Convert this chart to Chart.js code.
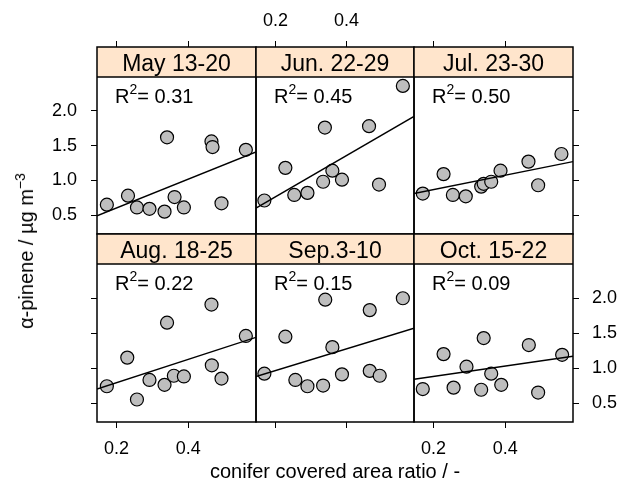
<!DOCTYPE html>
<html>
<head>
<meta charset="utf-8">
<script src="https://cdn.jsdelivr.net/npm/chart.js@4.4.1/dist/chart.umd.min.js"></script>
<style>
body { margin: 0; background: #fff; }
#wrap { position: relative; width: 619px; height: 482px; overflow: hidden; font-family: "Liberation Sans", Arial, sans-serif; }
#wrap canvas { position: absolute; left: 0; top: 0; }
.ttl { position: absolute; font-size: 20px; line-height: 20px; color: #000; white-space: nowrap; }
.sup { font-size: 14px; position: relative; top: -8px; }
</style>
</head>
<body>
<div id="wrap">
  <canvas id="p0" width="619" height="482"></canvas>
  <canvas id="p1" width="619" height="482"></canvas>
  <canvas id="p2" width="619" height="482"></canvas>
  <canvas id="p3" width="619" height="482"></canvas>
  <canvas id="p4" width="619" height="482"></canvas>
  <canvas id="p5" width="619" height="482"></canvas>
  <div class="ttl" id="xlab">conifer covered area ratio / -</div>
  <div class="ttl" id="ylab">α-pinene / µg m<span class="sup">−3</span></div>
</div>
<script>
// Panel titles and R2 labels
const panelTitles = ['May 13-20', 'Jun. 22-29', 'Jul. 23-30', 'Aug. 18-25', 'Sep.3-10', 'Oct. 15-22'];
const r2Labels = ['0.31', '0.45', '0.50', '0.22', '0.15', '0.09'];

// Tick values
const xTicks = [0.2, 0.4];
const yTicks = [0.5, 1.0, 1.5, 2.0];

// Conifer covered area ratio (x) and alpha-pinene (y), one pair per panel
const mayX = [0.173, 0.232, 0.257, 0.292, 0.334, 0.362, 0.388, 0.341, 0.465, 0.468, 0.493, 0.561];
const mayY = [0.65, 0.78, 0.61, 0.59, 0.55, 0.76, 0.61, 1.62, 1.56, 1.48, 0.67, 1.44];
const junX = [0.169, 0.228, 0.253, 0.290, 0.334, 0.360, 0.387, 0.339, 0.463, 0.491, 0.558];
const junY = [0.71, 1.18, 0.79, 0.82, 0.98, 1.14, 1.01, 1.76, 1.78, 0.94, 2.36];
const julX = [0.170, 0.228, 0.254, 0.290, 0.333, 0.340, 0.361, 0.387, 0.465, 0.492, 0.557];
const julY = [0.81, 1.09, 0.79, 0.77, 0.91, 0.95, 0.98, 1.14, 1.27, 0.93, 1.38];
const augX = [0.173, 0.230, 0.257, 0.292, 0.334, 0.341, 0.360, 0.388, 0.465, 0.466, 0.493, 0.561];
const augY = [0.74, 1.15, 0.55, 0.83, 0.76, 1.65, 0.89, 0.88, 1.91, 1.04, 0.85, 1.46];
const sepX = [0.169, 0.228, 0.256, 0.290, 0.334, 0.340, 0.360, 0.387, 0.465, 0.465, 0.493, 0.558];
const sepY = [0.92, 1.45, 0.83, 0.74, 0.75, 1.98, 1.30, 0.91, 1.83, 0.96, 0.89, 2.00];
const octX = [0.170, 0.228, 0.256, 0.292, 0.333, 0.340, 0.361, 0.389, 0.466, 0.492, 0.559];
const octY = [0.70, 1.20, 0.72, 1.02, 0.69, 1.43, 0.92, 0.76, 1.33, 0.65, 1.19];

// Regression line values at the left and right panel limits
const fitStart = [0.49, 0.60, 0.81, 0.70, 0.88, 0.84];
const fitEnd = [1.41, 1.92, 1.27, 1.44, 1.57, 1.17];

const panelX = [mayX, junX, julX, augX, sepX, octX];
const panelY = [mayY, junY, julY, augY, sepY, octY];

// Axis limits (y max includes the strip on top of each panel)
const X_MIN = 0.1455, X_MAX = 0.5893;
const Y_MIN = 0.228, Y_MAX = 2.92;

// Layout
const COL_EDGES = [97, 256, 414, 573];
const ROW_EDGES = [[47, 234], [234, 422]];
const STRIP_H = 30;
const X_AXIS_H = 45;
const Y_AXIS_W = [60, 0, 46];
const W = 619, H = 482;
const FONT = '"Liberation Sans", Arial, sans-serif';
const COLORS = {
    strip: '#FFE5CC',
    point: '#BEBEBE',
    ink: '#000000'
};

// Strip, frame and R2 text
const panelDecor = {
    id: 'panelDecor',
    afterDraw(chart, args, opts) {
        const { ctx, chartArea: a } = chart;
        ctx.save();
        ctx.fillStyle = COLORS.strip;
        ctx.fillRect(a.left, a.top, a.right - a.left, STRIP_H);
        ctx.strokeStyle = COLORS.ink;
        ctx.lineWidth = 1.5;
        ctx.strokeRect(a.left, a.top, a.right - a.left, a.bottom - a.top);
        ctx.beginPath();
        ctx.moveTo(a.left, a.top + STRIP_H);
        ctx.lineTo(a.right, a.top + STRIP_H);
        ctx.stroke();

        ctx.fillStyle = COLORS.ink;
        ctx.textBaseline = 'alphabetic';
        ctx.textAlign = 'center';
        ctx.font = '23px ' + FONT;
        ctx.fillText(opts.title, (a.left + a.right) / 2, a.top + 24);

        ctx.textAlign = 'left';
        let x = a.left + 18;
        const y = a.top + STRIP_H + 26;
        ctx.font = '20px ' + FONT;
        ctx.fillText('R', x, y);
        x += ctx.measureText('R').width;
        ctx.font = '14px ' + FONT;
        ctx.fillText('2', x, y - 9.5);
        x += ctx.measureText('2').width;
        ctx.font = '20px ' + FONT;
        ctx.fillText('= ' + opts.r2, x, y);
        ctx.restore();
    }
};

function makePanel(i) {
    const r = Math.floor(i / 3);
    const c = i % 3;
    const L = COL_EDGES[c], R = COL_EDGES[c + 1];
    const T = ROW_EDGES[r][0], B = ROW_EDGES[r][1];
    const showX = (r === 0 && c === 1) || (r === 1 && c !== 1);
    const showY = (r === 0 && c === 0) || (r === 1 && c === 2);
    const hasY = c !== 1;

    const points = panelX[i].map((v, k) => ({ x: v, y: panelY[i][k] }));

    new Chart(document.getElementById('p' + i), {
        type: 'scatter',
        data: {
            datasets: [{
                type: 'line',
                data: [{ x: X_MIN, y: fitStart[i] }, { x: X_MAX, y: fitEnd[i] }],
                borderColor: COLORS.ink,
                borderWidth: 1.4,
                pointRadius: 0,
                fill: false
            }, {
                data: points,
                backgroundColor: COLORS.point,
                borderColor: COLORS.ink,
                borderWidth: 1.2,
                pointRadius: 6.5
            }]
        },
        options: {
            responsive: false,
            animation: false,
            devicePixelRatio: 1,
            events: [],
            layout: {
                padding: {
                    left: L - (c === 0 ? Y_AXIS_W[0] : 0),
                    right: W - R - (c === 2 ? Y_AXIS_W[2] : 0),
                    top: T - (r === 0 ? X_AXIS_H : 0),
                    bottom: H - B - (r === 1 ? X_AXIS_H : 0)
                }
            },
            scales: {
                x: {
                    type: 'linear',
                    position: r === 0 ? 'top' : 'bottom',
                    min: X_MIN,
                    max: X_MAX,
                    afterFit: s => { s.height = X_AXIS_H; },
                    afterBuildTicks: s => { s.ticks = xTicks.map(v => ({ value: v })); },
                    grid: { drawOnChartArea: false, tickLength: 6, color: COLORS.ink, lineWidth: 1 },
                    border: { display: false },
                    ticks: {
                        color: COLORS.ink,
                        font: { family: FONT, size: 18 },
                        padding: r === 0 ? 9 : 10,
                        maxRotation: 0,
                        autoSkip: false,
                        callback: v => showX ? v.toFixed(1) : ''
                    }
                },
                y: {
                    type: 'linear',
                    display: hasY,
                    position: c === 0 ? 'left' : 'right',
                    min: Y_MIN,
                    max: Y_MAX,
                    afterFit: s => { s.width = hasY ? Y_AXIS_W[c] : 0; },
                    afterBuildTicks: s => { s.ticks = yTicks.map(v => ({ value: v })); },
                    grid: { drawOnChartArea: false, tickLength: 6, color: COLORS.ink, lineWidth: 1 },
                    border: { display: false },
                    ticks: {
                        color: COLORS.ink,
                        font: { family: FONT, size: 18 },
                        padding: c === 0 ? 14 : 13,
                        autoSkip: false,
                        callback: v => showY ? v.toFixed(1) : ''
                    }
                }
            },
            plugins: {
                legend: { display: false },
                tooltip: { enabled: false },
                panelDecor: { title: panelTitles[i], r2: r2Labels[i] }
            }
        },
        plugins: [panelDecor]
    });
}

for (let i = 0; i < 6; i++) makePanel(i);

// Axis titles
const xlab = document.getElementById('xlab');
xlab.style.left = ((COL_EDGES[0] + COL_EDGES[3]) / 2) + 'px';
xlab.style.top = '461px';
xlab.style.transform = 'translateX(-50%)';

const ylab = document.getElementById('ylab');
ylab.style.left = '26.5px';
ylab.style.top = '251px';
ylab.style.transform = 'translate(-50%, -50%) rotate(-90deg)';
</script>
</body>
</html>
